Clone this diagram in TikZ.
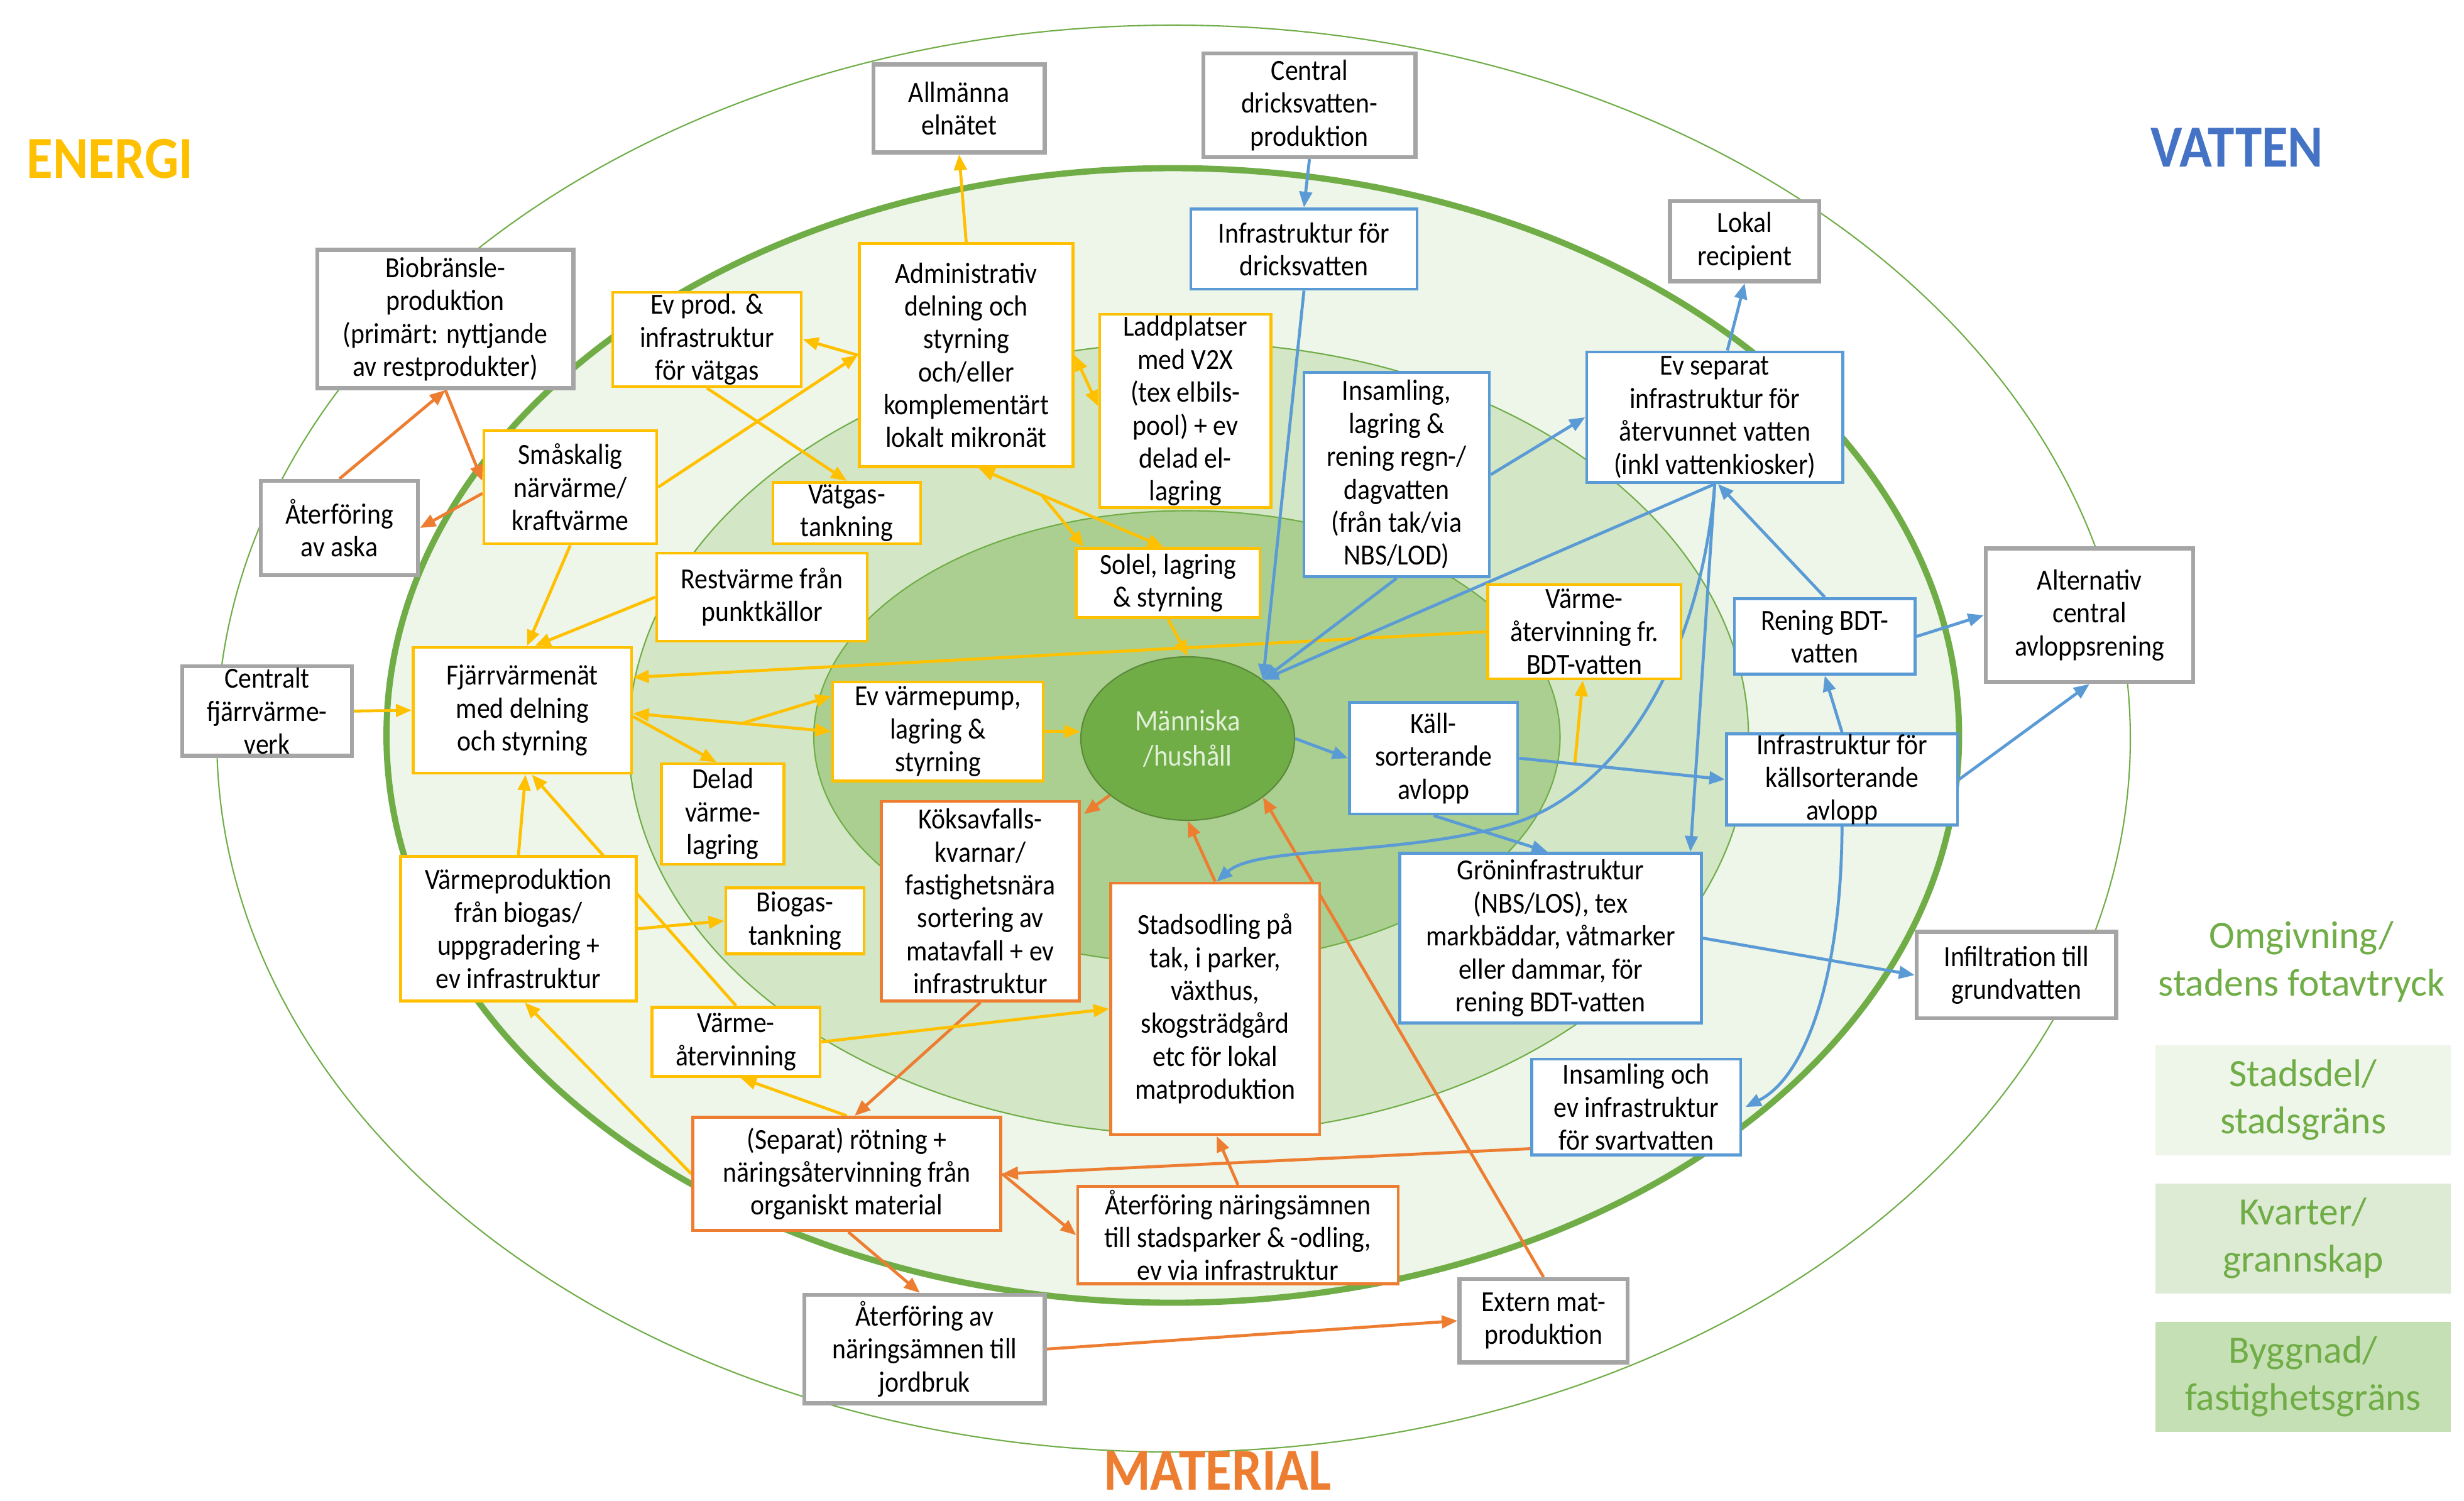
\documentclass[tikz,border=0pt]{standalone}
\usepackage{fontspec}
\setmainfont{Carlito}[FakeStretch=0.9]
\newfontfamily\plainfont{Carlito}
\usetikzlibrary{arrows.meta,calc,shapes.geometric}
\definecolor{cY}{HTML}{FFC000}
\definecolor{cO}{HTML}{ED7D31}
\definecolor{cB}{HTML}{5B9BD5}
\definecolor{cG}{HTML}{A5A5A5}
\definecolor{cGreen}{HTML}{70AD47}
\definecolor{fStad}{HTML}{EEF5E9}
\definecolor{fKv}{HTML}{D3E6C6}
\definecolor{fBy}{HTML}{AACF91}
\definecolor{lStad}{HTML}{EEF5E9}
\definecolor{lKv}{HTML}{DDEBD4}
\definecolor{lBy}{HTML}{C6E0B5}
\definecolor{tBlue}{HTML}{4472C4}
\definecolor{mText}{HTML}{E2F0D9}
\pgfdeclarelayer{bg}\pgfdeclarelayer{conn}\pgfsetlayers{bg,conn,main}
% box from corner (#3,#4) to corner (#5,#6), in picture units
\newcommand\dbox[7]{\node[#1, minimum width={(#5-#3)*0.025cm}, minimum height={(#6-#4)*0.025cm}]
  (#2) at ({(#3+#5)/2},{(#4+#6)/2}) {#7};}
\begin{document}
\begin{tikzpicture}[x=0.025cm,y=-0.025cm,
  box/.style={draw, fill=white, line width=1.4pt, inner sep=0pt, align=center,
    font=\fontsize{13.2}{14.9}\selectfont},
  gbox/.style={box, draw=cG, line width=1.8pt},
  ybox/.style={box, draw=cY},
  obox/.style={box, draw=cO},
  bbox/.style={box, draw=cB},
  conn/.style={line width=1.35pt, >={Triangle[length=0.25cm,width=0.2cm]}, ->},
  yarr/.style={conn, draw=cY},
  oarr/.style={conn, draw=cO},
  barr/.style={conn, draw=cB},
  legbox/.style={inner sep=0pt, align=center, text=cGreen,
    font=\plainfont\fontsize{17.5}{21.5}\selectfont},
  title/.style={font=\bfseries\fontsize{27}{30}\selectfont}
]
\useasboundingbox (0,0) rectangle (1568.4,954.8);

% ---------- background rings ----------
\begin{pgfonlayer}{bg}
\fill[white] (0,0) rectangle (1568.4,954.8);
\draw[cGreen, line width=0.6pt] (747,470) ellipse [x radius=609, y radius=454];
\draw[cGreen, line width=2.8pt, fill=fStad] (746.5,468) ellipse [x radius=500.5, y radius=361];
\draw[cGreen, line width=0.6pt, fill=fKv] (756.5,470) ellipse [x radius=356.5, y radius=252];
\draw[cGreen, line width=0.6pt, fill=fBy] (755.5,469) ellipse [x radius=237.5, y radius=144];
\end{pgfonlayer}

% ---------- titles and legend ----------
\node[title, text=cY] (tEnergi) at (70,101) {ENERGI};
\node[title, text=tBlue] (tVatten) at (1424,94) {VATTEN};
\node[title, text=cO] (tMaterial) at (775,936) {MATERIAL};
\node[legbox] (lOmg) at (1465,612) {Omgivning/\\stadens fotavtryck};
\dbox{legbox, fill=lStad}{lStadsdel}{1372}{665}{1560}{735}{Stadsdel/\\stadsgräns}
\dbox{legbox, fill=lKv}{lKvarter}{1372}{753}{1560}{823}{Kvarter/\\grannskap}
\dbox{legbox, fill=lBy}{lByggnad}{1372}{841}{1560}{911}{Byggnad/\\fastighetsgräns}

% ---------- centre ----------
\node[ellipse, fill=cGreen, draw=cGreen!80!black, line width=0.6pt, inner sep=0pt,
  minimum width=3.4cm, minimum height=2.6cm, text=mText, align=center,
  font=\fontsize{13.5}{16}\selectfont] (manm) at (756,470) {Människa\\/hushåll};

% ---------- grey (external) boxes ----------
\dbox{gbox}{bio}{202}{159}{365}{247}{Biobränsle-\\produktion\\(primärt: nyttjande\\av restprodukter)}
\dbox{gbox}{aska}{166}{306}{266}{366}{Återföring\\av aska}
\dbox{gbox}{cfv}{116}{424}{224}{481}{Centralt\\fjärrvärme-\\verk}
\dbox{gbox}{elnat}{556}{41}{665}{97}{Allmänna\\elnätet}
\dbox{gbox}{cdv}{766}{34}{901}{100}{Central\\dricksvatten-\\produktion}
\dbox{gbox}{lokal}{1063}{128}{1158}{179}{Lokal\\recipient}
\dbox{gbox}{alt}{1264}{349}{1396}{434}{Alternativ\\central\\avloppsrening}
\dbox{gbox}{infil}{1220}{593}{1347}{648}{Infiltration till\\grundvatten}
\dbox{gbox}{jord}{512}{824}{665}{893}{Återföring av\\näringsämnen till\\jordbruk}
\dbox{gbox}{extern}{929}{814}{1036}{867}{Extern mat-\\produktion}

% ---------- energy (yellow) ----------
\dbox{ybox}{vatgas}{390}{186}{510}{246}{Ev prod. \&\\infrastruktur\\för vätgas}
\dbox{ybox}{adm}{547}{155}{683}{297}{Administrativ\\delning och\\styrning\\och/eller\\komplementärt\\lokalt mikronät}
\dbox{ybox}{ladd}{700}{200}{809}{323}{Laddplatser\\med V2X\\(tex elbils-\\pool) + ev\\delad el-\\lagring}
\dbox{ybox}{smal}{308}{274}{418}{346}{Småskalig\\närvärme/\\kraftvärme}
\dbox{ybox}{vtank}{492}{307}{586}{346}{Vätgas-\\tankning}
\dbox{ybox}{rest}{418}{352}{552}{408}{Restvärme från\\punktkällor}
\dbox{ybox}{solel}{685}{349}{802}{393}{Solel, lagring\\\& styrning}
\dbox{ybox}{fjv}{263}{412}{402}{492}{Fjärrvärmenät\\med delning\\och styrning}
\dbox{ybox}{vpump}{530}{434}{664}{497}{Ev värmepump,\\lagring \&\\styrning}
\dbox{ybox}{delad}{421}{486}{499}{550}{Delad\\värme-\\lagring}
\dbox{ybox}{bdtv}{947}{372}{1070}{432}{Värme-\\återvinning fr.\\BDT-vatten}
\dbox{ybox}{vprod}{255}{545}{405}{637}{Värmeproduktion\\från biogas/\\uppgradering +\\ev infrastruktur}
\dbox{ybox}{btank}{462}{565}{550}{607}{Biogas-\\tankning}
\dbox{ybox}{vater}{415}{641}{522}{685}{Värme-\\återvinning}

% ---------- material (orange) ----------
\dbox{obox}{kok}{561}{510}{687}{637}{Köksavfalls-\\kvarnar/\\fastighetsnära\\sortering av\\matavfall + ev\\infrastruktur}
\dbox{obox}{stad}{707}{562}{840}{722}{Stadsodling på\\tak, i parker,\\växthus,\\skogsträdgård\\etc för lokal\\matproduktion}
\dbox{obox}{rot}{441}{711}{637}{783}{(Separat) rötning +\\näringsåtervinning från\\organiskt material}
\dbox{obox}{aterf}{686}{755}{890}{817}{Återföring näringsämnen\\till stadsparker \& -odling,\\ev via infrastruktur}

% ---------- water (blue) ----------
\dbox{bbox}{idv}{758}{133}{902}{184}{Infrastruktur för\\dricksvatten}
\dbox{bbox}{regn}{830}{237}{948}{367}{Insamling,\\lagring \&\\rening regn-/\\dagvatten\\(från tak/via\\NBS/LOD)}
\dbox{bbox}{evsep}{1010}{224}{1173}{307}{Ev separat\\infrastruktur för\\återvunnet vatten\\(inkl vattenkiosker)}
\dbox{bbox}{renbdt}{1104}{381}{1219}{429}{Rening BDT-\\vatten}
\dbox{bbox}{kall}{859}{447}{966}{518}{Käll-\\sorterande\\avlopp}
\dbox{bbox}{iks}{1099}{467}{1246}{525}{Infrastruktur för\\källsorterande\\avlopp}
\dbox{bbox}{gron}{891}{543}{1083}{651}{Gröninfrastruktur\\(NBS/LOS), tex\\markbäddar, våtmarker\\eller dammar, för\\rening BDT-vatten}
\dbox{bbox}{svart}{975}{674}{1108}{735}{Insamling och\\ev infrastruktur\\för svartvatten}

% ---------- connectors ----------
\begin{pgfonlayer}{conn}
% orange
\draw[oarr] (aska.north) -- (bio.south);
\draw[oarr] (bio.south) -- ($(smal.west)+(0,-4)$);
\draw[oarr] ($(smal.west)+(0,4)$) -- (aska.east);
\draw[oarr] (manm.216) -- ($(kok.north east)+(2,9)$);
\draw[oarr] (kok.south) -- ($(rot.north)+(5,0)$);
\draw[oarr] (stad.north) -- (manm.south);
\draw[oarr] (extern.north) -- (manm.322);
\draw[oarr] (aterf.north) -- ($(stad.south)+(1,0)$);
\draw[oarr] ($(svart.south west)+(0,-5)$) -- (rot.east);
\draw[oarr] (rot.east) -- (aterf.west);
\draw[oarr] ($(rot.south)+(1,0)$) -- ($(jord.north)+(-3,0)$);
\draw[oarr] (jord.east) -- (extern.west);
% yellow
\draw[yarr] (smal.east) -- (adm.west);
\draw[yarr] (adm.west) -- (vatgas.east);
\draw[yarr] (vatgas.south) -- (vtank.north);
\draw[yarr] (adm.north) -- (elnat.south);
\draw[yarr,<->] (adm.east) -- ($(ladd.west)+(0,-3)$);
\coordinate (sA) at ($(adm.south)+(8,0)$);
\coordinate (sB) at ($(solel.north)+(-3,0)$);
\draw[yarr,<->] (sA) -- (sB);
\draw[yarr] ($(sA)!0.34!(sB)$) -- ($(solel.north west)+(6,0)$);
\draw[yarr] (solel.south) -- (manm.north);
\draw[yarr] (rest.west) -- ($(fjv.north)+(8,0)$);
\draw[yarr] (smal.south) -- ($(fjv.north)+(3,0)$);
\draw[yarr] (cfv.east) -- (fjv.west);
\draw[yarr] (bdtv.west) -- ($(fjv.north east)+(0,20)$);
\coordinate (pA) at ($(fjv.east)+(0,2)$);
\draw[yarr,<->] (pA) -- (vpump.west);
\draw[yarr] ($(pA)!0.55!(vpump.west)$) -- ($(vpump.north west)+(0,10)$);
\draw[yarr] ($(fjv.east)+(0,4)$) -- ($(delad.north)+(-4,0)$);
\draw[yarr] (vpump.east) -- (vpump.east -| manm.west);
\draw[yarr] (vprod.north) -- ($(fjv.south)+(2,0)$);
\draw[yarr] (vater.north) -- ($(fjv.south)+(6,0)$);
\draw[yarr] (vprod.east) -- (btank.west);
\draw[yarr] (rot.west) -- ($(vprod.south)+(4,0)$);
\draw[yarr] (rot.north) -- ($(vater.south)+(3,0)$);
\draw[yarr] (vater.east) -- (stad.west);
\draw[yarr] ($(kall.east)!0.27!(iks.west)$) -- ($(bdtv.south)+(-1,0)$);
% blue
\draw[barr] (cdv.south) -- (idv.north);
\draw[barr] (idv.south) -- (manm.38);
\draw[barr] (regn.south) -- (manm.38);
\draw[barr] (regn.east) -- (evsep.west);
\draw[barr] (evsep.south) -- (manm.38);
\draw[barr] ($(evsep.north)+(8,0)$) -- (lokal.south);
\draw[barr] (renbdt.north) -- ($(evsep.south)+(2,0)$);
\draw[barr] (evsep.south) -- ($(gron.north east)+(-8,0)$);
\draw[barr] (evsep.south) .. controls (1082,420) and (1030,505) .. (960,525)
  .. controls (890,545) and (800,538) .. ($(stad.north)+(1,0)$);
\draw[barr] (manm.east) -- (kall.west);
\draw[barr] (kall.east) -- (iks.west);
\draw[barr] (kall.south) -- ($(gron.north)+(-2,0)$);
\draw[barr] (iks.north) -- (renbdt.south);
\draw[barr] (iks.east) -- (alt.south);
\draw[barr] (renbdt.east) -- (alt.west);
\draw[barr] (iks.south) .. controls (1172,620) and (1150,685) .. ($(svart.east)+(2,0)$);
\draw[barr] (gron.east) -- (infil.west);
\end{pgfonlayer}
\end{tikzpicture}
\end{document}
